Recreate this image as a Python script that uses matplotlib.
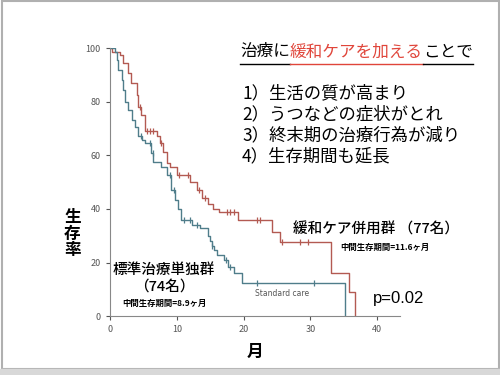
import matplotlib
matplotlib.use("Agg")
import matplotlib.pyplot as plt
import numpy as np
from matplotlib.patches import Rectangle

plt.rcParams['font.family'] = ['Noto Sans CJK JP', 'DejaVu Sans']

# palliative care + standard (red)
pal_t = [0, 0.3, 1.5, 2.0, 2.7, 3.2, 4.0, 4.2, 4.7, 5.2, 7.0, 7.5, 8.0, 8.5, 9.0,
         10.0, 12.0, 13.0, 13.7, 14.7, 15.4, 16.3, 19.2, 24.3, 25.5, 33.0, 35.7, 36.6]
pal_s = [100, 98.6, 97.3, 94.3, 90.5, 86.8, 82.5, 78, 75, 69, 67, 64.5, 61.3, 57, 55.7,
         52.6, 50, 47, 44, 42, 40, 39, 35.8, 31.4, 27.7, 16.2, 9, 0]
pal_cens = [4.5, 5.5, 6.0, 6.4, 7.7, 10.3, 11.7, 13.3, 14.2, 17.5, 18.0, 18.5,
            22.0, 22.5, 25.8, 28.5, 29.6]

# standard care (blue)
std_t = [0, 0.75, 1.0, 1.25, 1.75, 2.0, 2.25, 2.75, 3.25, 3.75, 4.25, 4.75, 5.2,
         6.2, 6.5, 7.7, 8.5, 9.2, 9.7, 10.2, 10.7, 12.2, 13.5, 14.7, 15.0, 15.2,
         15.5, 16.0, 17.0, 17.7, 18.5, 19.7, 35.1]
std_s = [100, 98.6, 95.5, 91.8, 88, 84.3, 80, 76.9, 73, 70.6, 67, 65.7, 64.4,
         60.7, 57.6, 55.7, 52.6, 47, 43.3, 40, 35.8, 34, 32.7, 30, 28, 26,
         24.6, 22.8, 20.9, 18.4, 15.9, 12.2, 0]
std_cens = [4.7, 6.0, 6.4, 9.0, 9.6, 11.0, 12.0, 13.0, 15.3, 17.3, 18.0, 22.0, 30.5]

xticks = [0, 10, 20, 30, 40]
yticks = [0, 20, 40, 60, 80, 100]

title_parts = [('治療に', 'black'), ('緩和ケアを加える', '#e0453a'), ('ことで', 'black')]
items = ['1）生活の質が高まり', '2）うつなどの症状がとれ',
         '3）終末期の治療行為が減り', '4）生存期間も延長']

red = '#b35a52'
blue = '#4f7d8a'


def step_at(t, s, x):
    i = np.searchsorted(t, x, side='right') - 1
    return np.array(s)[i]


fig = plt.figure(figsize=(5, 3.75), dpi=100)
ax = fig.add_axes([0.22, 0.157, 0.58, 0.715])

ax.step(pal_t, pal_s, where='post', color=red, lw=1)
ax.step(std_t, std_s, where='post', color=blue, lw=1)
ax.plot(pal_cens, step_at(pal_t, pal_s, pal_cens), ls='none', marker='|',
        ms=5, mew=0.9, color=red)
ax.plot(std_cens, step_at(std_t, std_s, std_cens), ls='none', marker='|',
        ms=5, mew=0.9, color=blue)

ax.set_xlim(0, 43.4)
ax.set_ylim(0, 100)
ax.set_xticks(xticks)
ax.set_yticks(yticks)
ax.tick_params(labelsize=6.5, colors='#555555', length=3, width=0.8)
for sp in ['top', 'right']:
    ax.spines[sp].set_visible(False)
for sp in ['left', 'bottom']:
    ax.spines[sp].set_color('#888888')
ax.patch.set_alpha(0)

# annotations on the plot
fig.text(0.328, 0.28, '標準治療単独群', fontsize=10.5, ha='center', va='center', weight='medium')
fig.text(0.328, 0.235, '（74名）', fontsize=10.5, ha='center', va='center', weight='medium')
fig.text(0.328, 0.192, '中間生存期間=8.9ヶ月', fontsize=6, ha='center', va='center', weight='bold')
fig.text(0.586, 0.387, '緩和ケア併用群 （77名）', fontsize=10.5, ha='left', va='center', weight='medium')
fig.text(0.68, 0.341, '中間生存期間=11.6ヶ月', fontsize=6, ha='left', va='center', weight='bold')
fig.text(0.564, 0.216, 'Standard care', fontsize=5.5, ha='center', va='center',
         color='#555555', family='DejaVu Sans')
fig.text(0.746, 0.205, 'p=0.02', fontsize=12, ha='left', va='center',
         family='Liberation Sans')

for i, ch in enumerate('生存率'):
    fig.text(0.145, 1 - (217 + i * 16.7) / 375, ch, fontsize=12, ha='center',
             va='center', weight='bold')
fig.text(0.51, 0.062, '月', fontsize=12, ha='center', va='center', weight='bold')

# title line with coloured part and underline (full-width chars, 12pt = 16.67px)
em = 12 / 72 * 100 / 500
x0 = 0.48
ty = 0.862
for txt, c in title_parts:
    fig.text(x0, ty, txt, fontsize=12, color=c, ha='left', va='center')
    x1 = x0 + len(txt) * em
    fig.add_artist(plt.Line2D([x0, x1], [ty - 0.033, ty - 0.033],
                              color=c, lw=1, transform=fig.transFigure))
    x0 = x1

for i, s in enumerate(items):
    fig.text(0.484, 0.752 - i * 0.056, s, fontsize=12.5, ha='left', va='center')

# slide frame
fig.add_artist(Rectangle((0.003, 0.015), 0.994, 0.982, fill=False,
                         ec='#b0b0b0', lw=1.5, transform=fig.transFigure))
fig.add_artist(Rectangle((0, 0), 1, 0.015, color='#d8d8d8',
                         transform=fig.transFigure))

fig.savefig('out.png', dpi=100)
